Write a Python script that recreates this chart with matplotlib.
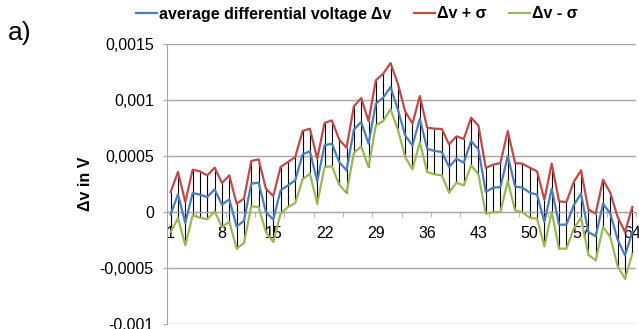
import matplotlib
matplotlib.use("Agg")
import matplotlib.pyplot as plt
from matplotlib.lines import Line2D
from matplotlib.ticker import FixedLocator

plt.rcParams['font.family'] = ['Liberation Sans', 'DejaVu Sans']

# measurement index 1..64
index = list(range(1, 65))

# average differential voltage (x1e-4 V)
avg_e4 = [-0.21, 1.58, -0.98, 1.70, 1.55, 1.34, 2.02, 0.65, 1.13, -1.28,
          -0.80, 2.53, 2.62, 0.00, -0.68, 1.93, 2.38, 2.83, 5.15, 5.42,
          2.74, 5.95, 6.10, 4.46, 3.72, 7.35, 8.04, 6.10, 9.67, 10.21,
          11.16, 9.17, 6.84, 5.95, 8.33, 5.65, 5.45, 5.36, 4.02, 4.76,
          4.40, 6.34, 5.59, 1.79, 2.17, 2.23, 5.00, 2.29, 2.17, 1.73,
          1.55, -0.89, 2.08, -1.13, -1.13, 0.60, 1.64, -1.79, -2.17, 0.74,
          -0.15, -2.47, -3.87, -1.79]

# average + sigma (x1e-4 V)
upper_e4 = [1.79, 3.57, 0.89, 3.78, 3.63, 3.27, 3.96, 2.59, 3.27, 0.74,
            1.19, 4.55, 4.70, 2.08, 1.43, 4.02, 4.46, 4.91, 7.23, 7.44,
            4.76, 7.95, 8.18, 6.46, 5.74, 9.43, 10.18, 8.12, 11.76, 12.35,
            13.30, 11.46, 8.99, 7.89, 10.36, 7.53, 7.44, 7.41, 6.04, 6.76,
            6.52, 8.42, 7.71, 3.93, 4.23, 4.37, 7.23, 4.37, 4.32, 3.96,
            3.63, 1.10, 4.32, 0.95, 0.89, 2.68, 3.72, 0.24, -0.15, 2.89,
            1.70, -0.45, -1.79, 0.45]

# average - sigma (x1e-4 V)
lower_e4 = [-1.79, -0.54, -2.98, -0.30, -0.51, -0.65, 0.06, -1.34, -0.86, -3.27,
            -2.77, 0.51, 0.45, -1.79, -2.68, -0.15, 0.45, 0.80, 2.92, 3.42,
            0.74, 4.02, 4.08, 2.44, 1.70, 5.27, 5.86, 4.02, 7.74, 8.12,
            9.17, 7.38, 4.91, 3.81, 6.25, 3.57, 3.36, 3.27, 1.73, 2.62,
            2.38, 4.17, 3.36, -0.15, -0.03, 0.00, 2.77, 0.15, -0.03, -0.51,
            -0.60, -3.07, 0.00, -3.27, -3.27, -1.49, -0.51, -3.81, -4.32, -1.34,
            -2.23, -4.85, -5.95, -3.72]

avg = [v * 1e-4 for v in avg_e4]
upper = [v * 1e-4 for v in upper_e4]
lower = [v * 1e-4 for v in lower_e4]

x_labels = [1, 8, 15, 22, 29, 36, 43, 50, 57, 64]
y_ticks = [-0.001, -0.0005, 0, 0.0005, 0.001, 0.0015]
y_tick_labels = ['-0,001', '-0,0005', '0', '0,0005', '0,001', '0,0015']
series_names = ['average differential voltage \u0394v', '\u0394v + \u03c3', '\u0394v - \u03c3']

c_blue = '#4A7EBB'
c_red = '#BE4B48'
c_green = '#98B954'
grid_c = '#A6A6A6'

W, H = 639, 329
fig = plt.figure(figsize=(W / 100, H / 100), dpi=100)
ax = fig.add_axes([167 / W, 5 / H, (636 - 167) / W, (324 - 44) / H])

ax.set_xlim(0.5, 64.5)
ax.set_ylim(-0.001, 0.0015)

# high-low lines
ax.vlines(index, lower, upper, colors='black', linewidth=0.8, zorder=2)
ax.plot(index, avg, color=c_blue, linewidth=1.6, zorder=4)
ax.plot(index, upper, color=c_red, linewidth=1.6, zorder=3)
ax.plot(index, lower, color=c_green, linewidth=1.6, zorder=3)

# gridlines
for yv in y_ticks:
    ax.axhline(yv, color=grid_c, linewidth=1.0, zorder=1)

for s in ['top', 'right']:
    ax.spines[s].set_visible(False)
ax.spines['left'].set_color(grid_c)
ax.spines['bottom'].set_position(('data', 0))
ax.spines['bottom'].set_color(grid_c)

ax.set_yticks(y_ticks)
ax.set_yticklabels(y_tick_labels)
ax.tick_params(axis='y', length=3, color=grid_c, pad=6.5, labelsize=11.5)

ax.set_xticks(x_labels)
ax.set_xticklabels([str(v) for v in x_labels])
ax.tick_params(axis='x', which='major', length=0, pad=10, labelsize=11.5)
ax.xaxis.set_minor_locator(FixedLocator([0.5 + 4 * k for k in range(17)]))
ax.tick_params(axis='x', which='minor', length=3.5, color=grid_c, direction='out')

fig.text(85 / W, 1 - 184 / H, '\u0394v in V', rotation=90, ha='center', va='center',
         fontsize=11.5, fontweight='bold')
fig.text(8 / W, 1 - 33 / H, 'a)', ha='left', va='center', fontsize=19)

handles = [Line2D([], [], color=c_blue, linewidth=1.6),
           Line2D([], [], color=c_red, linewidth=1.6),
           Line2D([], [], color=c_green, linewidth=1.6)]
fig.legend(handles, series_names, loc='center', bbox_to_anchor=(357 / W, 1 - 14 / H),
           ncol=3, frameon=False, handlelength=1.3, handletextpad=0.15,
           columnspacing=1.4, prop={'weight': 'bold', 'size': 11.5},
           borderaxespad=0, borderpad=0)

fig.savefig('out.png', dpi=100)
